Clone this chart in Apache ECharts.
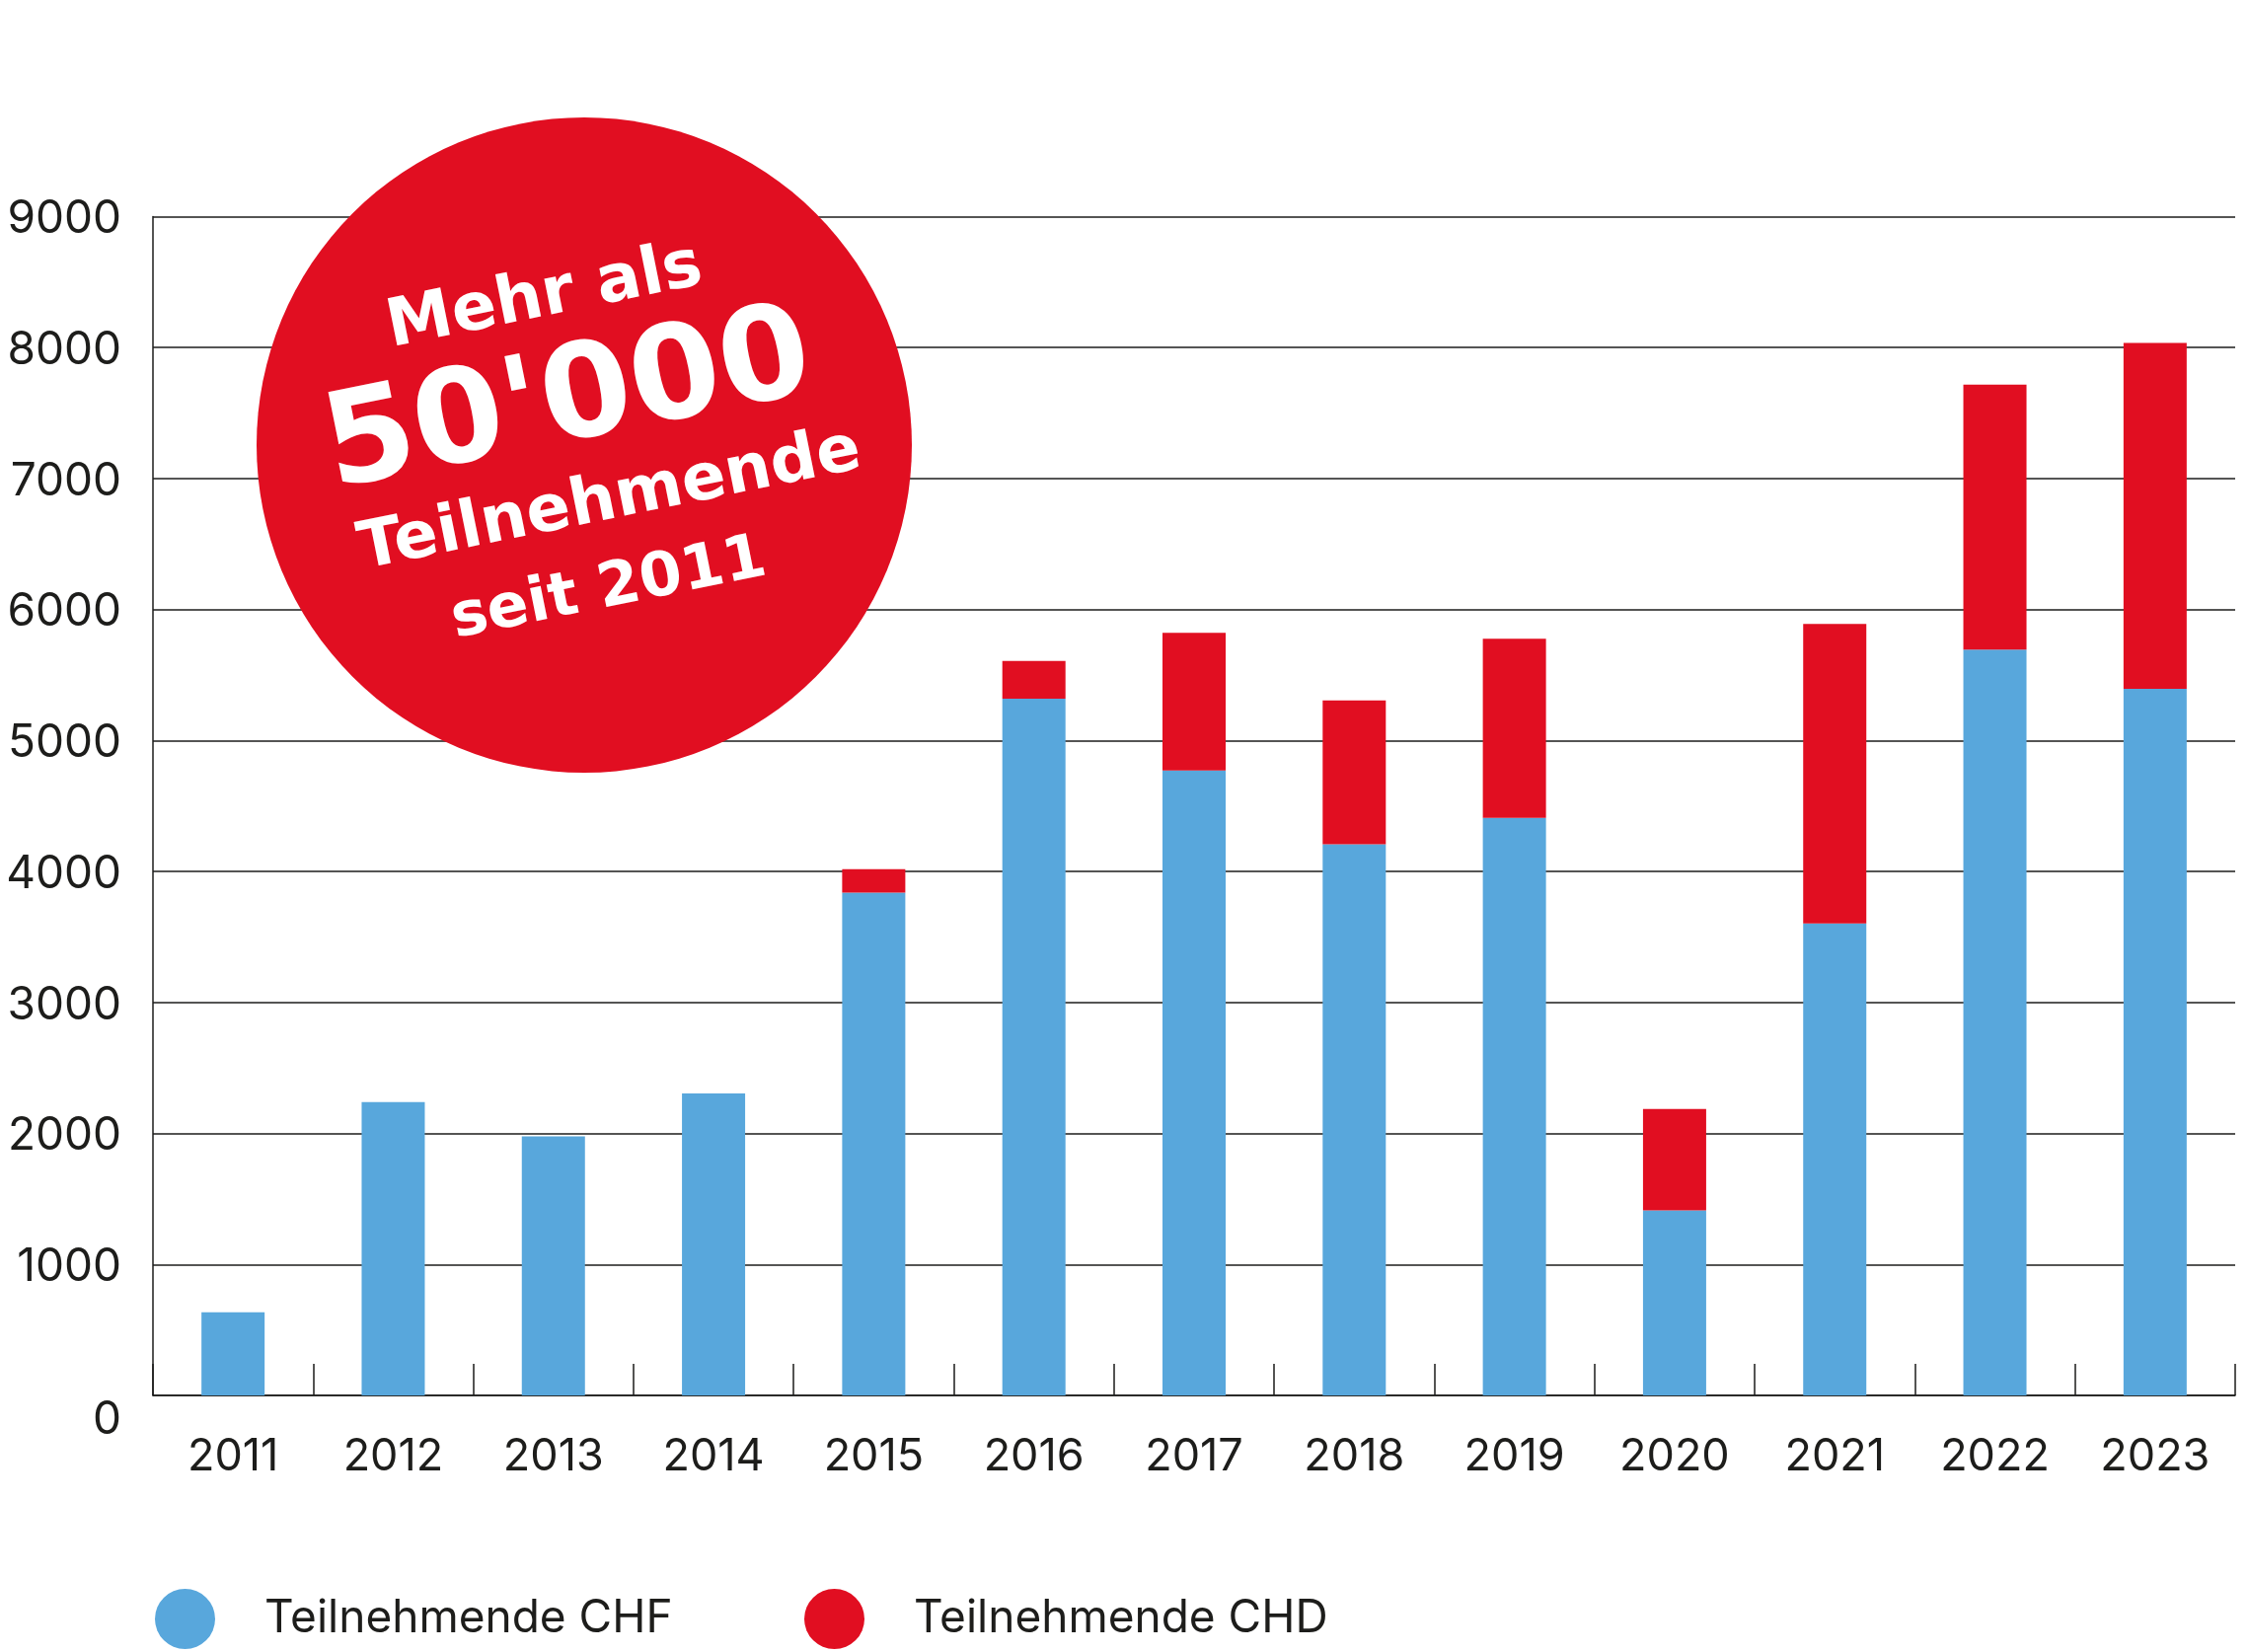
<!DOCTYPE html>
<html>
<head>
<meta charset="utf-8">
<script src="https://cdn.jsdelivr.net/npm/echarts@6/dist/echarts.min.js"></script>
<style>
html,body{margin:0;padding:0;background:#fff;}
#chart{width:2279px;height:1674px;}
</style>
</head>
<body>
<div id="chart"></div>
<script>
const years = ['2011','2012','2013','2014','2015','2016','2017','2018','2019','2020','2021','2022','2023'];
const chfValues = [635, 2240, 1977, 2306, 3839, 5319, 4772, 4208, 4409, 1412, 3604, 5695, 5394];
const chdValues = [0, 0, 0, 0, 179, 288, 1050, 1098, 1368, 775, 2286, 2022, 2641];
const seriesNames = ['Teilnehmende CHF', 'Teilnehmende CHD'];
const badgeLines = ['Mehr als', "50'000", 'Teilnehmende', 'seit 2011'];

const BLUE = '#58A7DC';
const RED = '#E10E21';
const INK = '#1d1d1b';
const FONT = 'Inter';

const chart = echarts.init(document.getElementById('chart'), null, {renderer: 'canvas'});
const rot = 0.2;
const badgeFont = '"DejaVu Sans"';

chart.setOption({
  animation: false,
  backgroundColor: '#ffffff',
  grid: {left: 155, right: 14, top: 219.5, bottom: 260, containLabel: false},
  legend: [
    {
      data: [seriesNames[0]], left: 152, top: 1605, icon: 'circle',
      itemWidth: 61, itemHeight: 61,
      textStyle: {fontFamily: FONT, fontSize: 46, color: INK, padding: [0, 0, 0, 45]}
    },
    {
      data: [seriesNames[1]], left: 810, top: 1605, icon: 'circle',
      itemWidth: 61, itemHeight: 61,
      textStyle: {fontFamily: FONT, fontSize: 46, color: INK, padding: [0, 0, 0, 45]}
    }
  ],
  xAxis: {
    type: 'category',
    data: years,
    boundaryGap: true,
    axisLine: {show: true, lineStyle: {color: INK, width: 1.5}},
    axisTick: {show: true, inside: true, length: 32, lineStyle: {color: INK, width: 1.5}},
    axisLabel: {fontFamily: FONT, fontSize: 45, color: INK, margin: 40},
    splitLine: {show: false}
  },
  yAxis: {
    type: 'value',
    min: 0, max: 9000, interval: 1000,
    axisLine: {show: true, lineStyle: {color: INK, width: 1.5}},
    axisTick: {show: false},
    axisLabel: {
      fontFamily: FONT, fontSize: 46, color: INK, margin: 32,
      formatter: function (v) { return v === 0 ? '{z|0}' : '{n|' + v + '}'; },
      rich: {
        z: {fontFamily: FONT, fontSize: 46, color: INK, padding: [50, 0, 0, 0]},
        n: {fontFamily: FONT, fontSize: 46, color: INK, padding: [6, 0, 0, 0]}
      }
    },
    splitLine: {show: true, lineStyle: {color: INK, width: 1.5}}
  },
  series: [
    {
      name: seriesNames[0], type: 'bar', stack: 'total', data: chfValues,
      barWidth: 64, itemStyle: {color: BLUE}
    },
    {
      name: seriesNames[1], type: 'bar', stack: 'total', data: chdValues,
      barWidth: 64, itemStyle: {color: RED}
    }
  ],
  graphic: [
    {type: 'circle', shape: {cx: 592, cy: 451, r: 332}, style: {fill: RED}, z: 100},
    {type: 'text', x: 552, y: 302, rotation: rot, z: 101,
      style: {text: badgeLines[0], fill: '#fff', font: 'bold 67px ' + badgeFont, align: 'center', verticalAlign: 'middle'}},
    {type: 'text', x: 576, y: 411, rotation: rot, z: 101,
      style: {text: badgeLines[1], fill: '#fff', font: 'bold 132px ' + badgeFont, align: 'center', verticalAlign: 'middle'}},
    {type: 'text', x: 618, y: 508, rotation: rot, z: 101,
      style: {text: badgeLines[2], fill: '#fff', font: 'bold 66px ' + badgeFont, align: 'center', verticalAlign: 'middle'}},
    {type: 'text', x: 617, y: 598, rotation: rot, z: 101,
      style: {text: badgeLines[3], fill: '#fff', font: 'bold 62px ' + badgeFont, align: 'center', verticalAlign: 'middle'}}
  ]
});
</script>
</body>
</html>
